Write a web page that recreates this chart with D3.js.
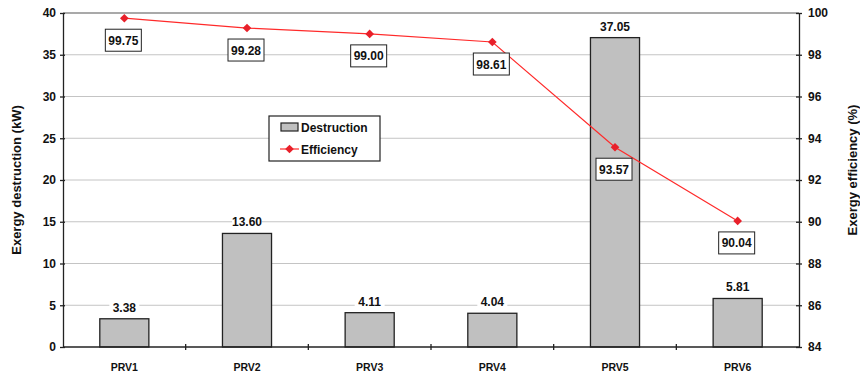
<!DOCTYPE html>
<html>
<head>
<meta charset="utf-8">
<script src="https://cdn.jsdelivr.net/npm/d3@7"></script>
<style>
  html, body { margin: 0; padding: 0; background: #fff; }
  svg { display: block; font-family: "Liberation Sans", Arial, sans-serif; }
</style>
</head>
<body>
<svg id="chart" width="860" height="373"></svg>
<script>
// Pressure reducing valves and their exergy figures
const categories = ["PRV1", "PRV2", "PRV3", "PRV4", "PRV5", "PRV6"];
const destruction = [3.38, 13.60, 4.11, 4.04, 37.05, 5.81];   // kW
const efficiency = [99.75, 99.28, 99.00, 98.61, 93.57, 90.04]; // %
const leftTicks = [0, 5, 10, 15, 20, 25, 30, 35, 40];
const rightTicks = [84, 86, 88, 90, 92, 94, 96, 98, 100];

const svg = d3.select("#chart");
const m = { left: 63, right: 799, top: 13, bottom: 347 };

const x = d3.scaleBand().domain(categories).range([m.left, m.right]).padding(0);
const yL = d3.scaleLinear().domain([0, 40]).range([m.bottom, m.top]);
const yR = d3.scaleLinear().domain([84, 100]).range([m.bottom, m.top]);
const barW = x.bandwidth() * 0.4;
const cx = d => x(d) + x.bandwidth() / 2;

// gridlines
svg.append("g").selectAll("line")
  .data(leftTicks.filter(t => t > 0 && t < 40))
  .join("line")
  .attr("x1", m.left).attr("x2", m.right)
  .attr("y1", d => yL(d)).attr("y2", d => yL(d))
  .attr("stroke", "#c4c4c4").attr("stroke-width", 1);

// top frame line
svg.append("line")
  .attr("x1", m.left).attr("x2", m.right)
  .attr("y1", m.top).attr("y2", m.top)
  .attr("stroke", "#555").attr("stroke-width", 1.2);

// bars
svg.append("g").selectAll("rect")
  .data(categories)
  .join("rect")
  .attr("x", (d) => cx(d) - barW / 2)
  .attr("width", barW)
  .attr("y", (d, i) => yL(destruction[i]))
  .attr("height", (d, i) => yL(0) - yL(destruction[i]))
  .attr("fill", "#c0c0c0")
  .attr("stroke", "#222")
  .attr("stroke-width", 1.3);

// axes
const axisStyle = g => {
  g.select(".domain").attr("stroke", "#222").attr("stroke-width", 1.3);
  g.selectAll(".tick line").attr("stroke", "#222").attr("stroke-width", 1.3);
  g.selectAll(".tick text")
    .attr("fill", "#111").attr("font-size", 12).attr("font-weight", "bold")
    .attr("font-family", "'Liberation Sans', Arial, sans-serif");
};

svg.append("g")
  .attr("transform", `translate(${m.left},0)`)
  .call(d3.axisLeft(yL).tickValues(leftTicks).tickSizeInner(3).tickSizeOuter(0).tickPadding(4))
  .call(axisStyle)
  .call(g => g.selectAll(".tick line").attr("x2", 2).attr("x1", -3));

svg.append("g")
  .attr("transform", `translate(${m.right},0)`)
  .call(d3.axisRight(yR).tickValues(rightTicks).tickSizeInner(3).tickSizeOuter(0).tickPadding(6))
  .call(axisStyle)
  .call(g => g.selectAll(".tick line").attr("x1", -3).attr("x2", 3));

// category axis: ticks between categories
const xAxis = svg.append("g").attr("transform", `translate(0,${m.bottom})`);
xAxis.append("line")
  .attr("x1", m.left).attr("x2", m.right)
  .attr("stroke", "#222").attr("stroke-width", 1.3);
xAxis.selectAll("line.sep")
  .data(categories.slice(1))
  .join("line").attr("class", "sep")
  .attr("x1", d => x(d)).attr("x2", d => x(d))
  .attr("y1", -3).attr("y2", 3)
  .attr("stroke", "#222").attr("stroke-width", 1.3);
xAxis.selectAll("text")
  .data(categories)
  .join("text")
  .attr("x", d => cx(d)).attr("y", 24)
  .attr("text-anchor", "middle")
  .attr("font-size", 10.5).attr("font-weight", "bold").attr("fill", "#111")
  .text(d => d);

// bar value labels on white
const barLabels = svg.append("g").selectAll("g")
  .data(categories)
  .join("g")
  .attr("transform", (d, i) => `translate(${cx(d)},${yL(destruction[i]) - 7})`);
barLabels.append("rect")
  .attr("x", -15).attr("y", -11).attr("width", 30).attr("height", 14)
  .attr("fill", "#fff");
barLabels.append("text")
  .attr("text-anchor", "middle")
  .attr("font-size", 12).attr("font-weight", "bold").attr("fill", "#111")
  .text((d, i) => destruction[i].toFixed(2));

// efficiency line
const line = d3.line().x((d, i) => cx(categories[i])).y(d => yR(d));
svg.append("path")
  .datum(efficiency)
  .attr("d", line)
  .attr("fill", "none")
  .attr("stroke", "#ff2a2a")
  .attr("stroke-width", 1.2);

const diamond = d3.symbol().type(d3.symbolDiamond2).size(48);
svg.append("g").selectAll("path")
  .data(efficiency)
  .join("path")
  .attr("d", diamond)
  .attr("transform", (d, i) => `translate(${cx(categories[i])},${yR(d)})`)
  .attr("fill", "#e8202a");

// boxed efficiency labels under each point
const effLabels = svg.append("g").selectAll("g")
  .data(efficiency)
  .join("g")
  .attr("transform", (d, i) => `translate(${cx(categories[i]) - 1},${yR(d) + 22})`);
effLabels.append("rect")
  .attr("x", -18).attr("y", -11).attr("width", 36).attr("height", 22)
  .attr("fill", "#fff").attr("stroke", "#222").attr("stroke-width", 1);
effLabels.append("text")
  .attr("text-anchor", "middle").attr("y", 4.5)
  .attr("font-size", 12).attr("font-weight", "bold").attr("fill", "#111")
  .text(d => d.toFixed(2));

// legend
const lg = svg.append("g").attr("transform", "translate(269,116)");
lg.append("rect")
  .attr("width", 111).attr("height", 45)
  .attr("fill", "#fff").attr("stroke", "#222").attr("stroke-width", 1.2);
lg.append("rect")
  .attr("x", 12).attr("y", 7).attr("width", 17).attr("height", 8)
  .attr("fill", "#c0c0c0").attr("stroke", "#222").attr("stroke-width", 1.2);
lg.append("text")
  .attr("x", 32).attr("y", 15.5)
  .attr("font-size", 12).attr("font-weight", "bold").attr("fill", "#111")
  .text("Destruction");
lg.append("line")
  .attr("x1", 11).attr("x2", 30).attr("y1", 33).attr("y2", 33)
  .attr("stroke", "#ff2a2a").attr("stroke-width", 1.2);
lg.append("path")
  .attr("d", diamond)
  .attr("transform", "translate(20.5,33)")
  .attr("fill", "#e8202a");
lg.append("text")
  .attr("x", 32).attr("y", 37.5)
  .attr("font-size", 12).attr("font-weight", "bold").attr("fill", "#111")
  .text("Efficiency");

// axis titles
svg.append("text")
  .attr("transform", `translate(21,${(m.top + m.bottom) / 2}) rotate(-90)`)
  .attr("text-anchor", "middle")
  .attr("font-size", 13).attr("font-weight", "bold").attr("fill", "#111")
  .text("Exergy destruction (kW)");
svg.append("text")
  .attr("transform", `translate(857,${(m.top + m.bottom) / 2 - 10}) rotate(-90)`)
  .attr("text-anchor", "middle")
  .attr("font-size", 13).attr("font-weight", "bold").attr("fill", "#111")
  .text("Exergy efficiency (%)");
</script>
</body>
</html>
